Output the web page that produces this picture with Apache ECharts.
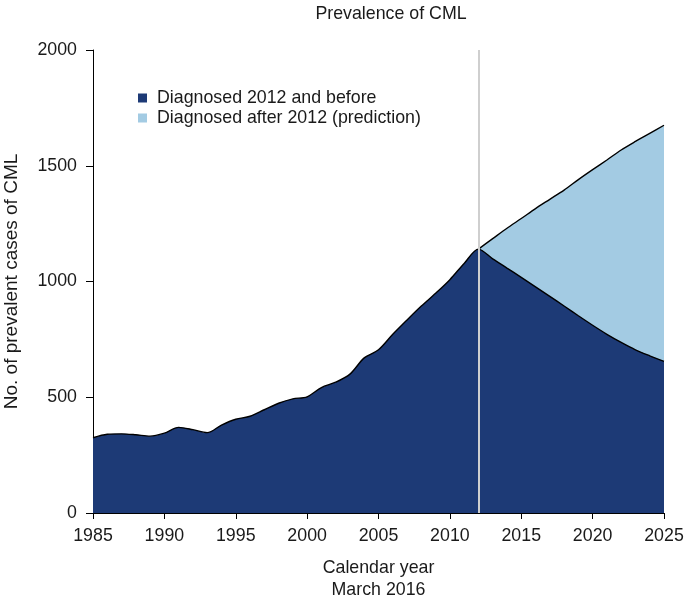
<!DOCTYPE html>
<html>
<head>
<meta charset="utf-8">
<script src="https://cdn.jsdelivr.net/npm/echarts@6/dist/echarts.min.js"></script>
<style>html,body{margin:0;padding:0;background:#fff}#c{width:685px;height:600px}</style>
</head>
<body>
<div id="c"></div>
<script>
const yearsBefore = [1985,1986,1987,1988,1989,1990,1991,1992,1993,1994,1995,1996,1997,1998,1999,2000,2001,2002,2003,2004,2005,2006,2007,2008,2009,2010,2011,2012,2013,2014,2015,2016,2017,2018,2019,2020,2021,2022,2023,2024,2025];
const diagnosedBefore = [325,340,342,338,332,345,370,360,347,380,405,418,446,474,493,502,542,565,600,670,705,772,834,894,949,1008,1078,1140,1098,1058,1018,977,936,894,852,811,772,737,705,679,655];
const yearsAfter = [2012,2013,2014,2015,2016,2017,2018,2019,2020,2021,2022,2023,2024,2025];
const diagnosedAfter = [0,87,172,254,338,419,501,588,672,753,831,900,961,1020];
const xTicks = [1985,1990,1995,2000,2005,2010,2015,2020,2025];
const yTicks = [0,500,1000,1500,2000];
const cutYear = 2012;

const beforeMap = {};
yearsBefore.forEach((y,i)=>beforeMap[y]=diagnosedBefore[i]);
const beforeData = yearsBefore.map((y,i)=>[y, diagnosedBefore[i]]);
const totalData = yearsAfter.map((y,i)=>[y, beforeMap[y] + diagnosedAfter[i]]);

const FONT = 'Liberation Sans, Arial, Helvetica, sans-serif';
const TXT = '#1a1a1a';
const DARK = '#1d3a76';
const LIGHT = '#a3cbe3';

const chart = echarts.init(document.getElementById('c'), null, {renderer:'canvas'});
chart.setOption({
  animation: false,
  title: {
    text: 'Prevalence of CML',
    left: 386, top: 0, textAlign: 'center',
    textStyle: {fontFamily: FONT, fontSize: 17.8, fontWeight: 'normal', color: TXT}
  },
  legend: {
    orient: 'vertical', left: 138, top: 89, padding: 0,
    itemWidth: 9, itemHeight: 9, itemGap: 2,
    data: [
      {name: 'Diagnosed 2012 and before', icon: 'rect', itemStyle: {color: DARK, borderWidth: 0}},
      {name: 'Diagnosed after 2012 (prediction)', icon: 'rect', itemStyle: {color: LIGHT, borderWidth: 0}}
    ],
    textStyle: {fontFamily: FONT, fontSize: 17.8, color: TXT, lineHeight: 18, padding: [0,0,0,5]}
  },
  grid: {left: 93, right: 21, top: 50, bottom: 87, containLabel: false, outerBoundsMode: 'none'},
  xAxis: {
    type: 'value', min: 1985, max: 2025, interval: 5,
    name: 'Calendar year\nMarch 2016', nameLocation: 'middle', nameGap: 44,
    nameTextStyle: {fontFamily: FONT, fontSize: 17.8, color: TXT, lineHeight: 22},
    axisLine: {show: true, onZero: false, lineStyle: {color: '#000', width: 1}},
    axisTick: {show: true, length: 6, lineStyle: {color: '#000'}},
    axisLabel: {fontFamily: FONT, fontSize: 17.8, color: TXT, margin: 14,
      formatter: v => xTicks.includes(v) ? String(v) : ''},
    splitLine: {show: false}
  },
  yAxis: {
    type: 'value', min: 0, max: 2000, interval: 500,
    name: 'No. of prevalent cases of CML', nameLocation: 'middle', nameGap: 72,
    nameTextStyle: {fontFamily: FONT, fontSize: 19, color: TXT},
    axisLine: {show: true, lineStyle: {color: '#000', width: 1}},
    axisTick: {show: true, length: 7, lineStyle: {color: '#000'}},
    axisLabel: {fontFamily: FONT, fontSize: 17.8, color: TXT, margin: 16,
      formatter: v => yTicks.includes(v) ? String(v) : ''},
    splitLine: {show: false}
  },
  series: [
    {
      name: 'Diagnosed after 2012 (prediction)', type: 'line', data: totalData,
      smooth: 0.3, symbol: 'none', z: 2,
      lineStyle: {color: '#000', width: 1.4},
      itemStyle: {color: LIGHT},
      areaStyle: {color: LIGHT, opacity: 1}
    },
    {
      name: 'Diagnosed 2012 and before', type: 'line', data: beforeData,
      smooth: 0.3, symbol: 'none', z: 3,
      lineStyle: {color: '#000', width: 1.4},
      itemStyle: {color: DARK},
      areaStyle: {color: DARK, opacity: 1},
      markLine: {
        silent: true, symbol: 'none', animation: false,
        label: {show: false},
        lineStyle: {color: '#cfcfcf', width: 2, type: 'solid'},
        data: [{xAxis: cutYear}]
      }
    }
  ]
});
</script>
</body>
</html>
